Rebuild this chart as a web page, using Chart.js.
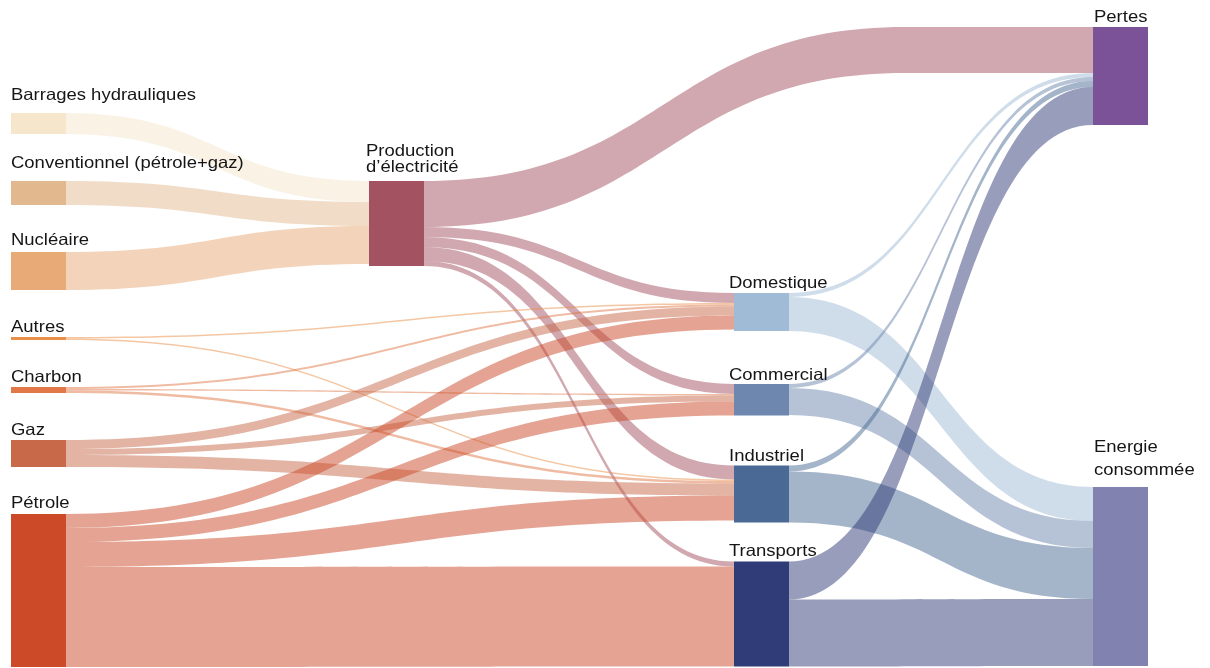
<!DOCTYPE html>
<html lang="fr">
<head>
<meta charset="utf-8">
<title>Flux d'énergie</title>
<script src="https://cdn.jsdelivr.net/npm/chart.js@4.4.1/dist/chart.umd.min.js"></script>
<style>
    html, body { margin: 0; padding: 0; background: #ffffff; }
    #wrap { width: 1210px; height: 668px; position: relative; }
</style>
</head>
<body>
<div id="wrap"><canvas id="sankeyChart"></canvas></div>
<script>
// Noeuds du diagramme
const nodeLabels = [
    'Barrages hydrauliques',
    'Conventionnel (pétrole+gaz)',
    'Nucléaire',
    'Autres',
    'Charbon',
    'Gaz',
    'Pétrole',
    'Production\nd’électricité',
    'Domestique',
    'Commercial',
    'Industriel',
    'Transports',
    'Pertes',
    'Energie\nconsommée'
];

// Flux : source, cible, valeur
const linkFrom  = [0, 1, 2,  7, 7, 7, 7, 7,  3, 3,  4, 4, 4,  5, 5, 5,  6, 6, 6, 6,    8, 8,  9, 9,  10, 10,  11, 11];
const linkTo    = [7, 7, 7,  12, 8, 9, 10, 11,  8, 10,  8, 9, 10,  8, 9, 10,  8, 9, 10, 11,  12, 13,  12, 13,  12, 13,  12, 13];
const linkValue = [21, 24, 38,  46, 10, 10, 14, 5,  1.5, 1.5,  2, 1.5, 2.5,  9, 6, 12,  14, 14, 25, 100,  4, 34,  4, 27,  6, 51,  38, 67];

// Mise en page (colonnes, positions, couleurs)
const nodeColumn = [0, 0, 0, 0, 0, 0, 0, 1, 2, 2, 2, 2, 3, 3];
const columnX = [11, 369, 734, 1093];
const columnTop = [113, 181, 293, 27];
const columnGaps = [[47, 47, 47, 47, 47, 47], [], [53, 50, 39], [362]];
const nodeWidth = 55;
const nodeColors = ['#f6e6cc', '#e2b98f', '#e8aa76', '#ea8f4a', '#e07848', '#c8694a', '#cc4a28',
    '#a35262', '#a0bbd6', '#6d87ae', '#4a6994', '#2f3c78', '#7b5298', '#8282b0'];
const labelLift = [13, 13, 7, 5, 5, 5, 6, 9, 5, 4, 5, 6, 5, 12];
const labelLineHeight = [17, 17, 17, 17, 17, 17, 17, 16.5, 17, 17, 17, 17, 17, 23];
const labelDx = [0, -3, -5, 1];
const linkAlpha = 0.5;

function hexToRgba(hex, a) {
    const n = parseInt(hex.slice(1), 16);
    return 'rgba(' + (n >> 16) + ',' + ((n >> 8) & 255) + ',' + (n & 255) + ',' + a + ')';
}

// Calcul des positions des noeuds et des liens (en unités de valeur)
function buildLayout() {
    const inSum = nodeLabels.map(() => 0);
    const outSum = nodeLabels.map(() => 0);
    linkFrom.forEach((s, i) => {
        outSum[s] += linkValue[i];
        inSum[linkTo[i]] += linkValue[i];
    });
    const size = nodeLabels.map((_, i) => Math.max(inSum[i], outSum[i]));
    const top = [];
    columnX.forEach((_, c) => {
        let y = columnTop[c];
        let k = 0;
        nodeLabels.forEach((_, i) => {
            if (nodeColumn[i] !== c) return;
            if (k > 0) y += columnGaps[c][k - 1];
            top[i] = y;
            y += size[i];
            k++;
        });
    });
    const center = i => top[i] + size[i] / 2;

    const links = linkFrom.map((s, i) => ({ s: s, t: linkTo[i], v: linkValue[i] }));
    nodeLabels.forEach((_, n) => {
        let y = top[n];
        links.filter(l => l.s === n).sort((a, b) => center(a.t) - center(b.t)).forEach(l => {
            l.sy = y; y += l.v;
        });
        y = top[n];
        links.filter(l => l.t === n).sort((a, b) => center(a.s) - center(b.s)).forEach(l => {
            l.ty = y; y += l.v;
        });
    });
    return { size: size, top: top, links: links };
}

const layout = buildLayout();

const sankeyPlugin = {
    id: 'sankeyDraw',
    afterDatasetsDraw(chart) {
        const ctx = chart.ctx;
        const xs = chart.scales.x;
        const ys = chart.scales.y;

        // liens
        layout.links.forEach(l => {
            const cs = nodeColumn[l.s], ct = nodeColumn[l.t];
            const x0 = xs.getPixelForValue(columnX[cs] + nodeWidth);
            const x1 = xs.getPixelForValue(columnX[ct]);
            // le lien production -> pertes termine sa courbe plus tôt
            const xEnd = (cs > 0 && ct - cs > 1) ? x0 + (x1 - x0) * 0.72 : x1;
            const xm = (x0 + xEnd) / 2;
            const y0t = ys.getPixelForValue(l.sy);
            const y0b = ys.getPixelForValue(l.sy + l.v);
            const y1t = ys.getPixelForValue(l.ty);
            const y1b = ys.getPixelForValue(l.ty + l.v);
            ctx.beginPath();
            ctx.moveTo(x0, y0t);
            ctx.bezierCurveTo(xm, y0t, xm, y1t, xEnd, y1t);
            ctx.lineTo(x1, y1t);
            ctx.lineTo(x1, y1b);
            ctx.lineTo(xEnd, y1b);
            ctx.bezierCurveTo(xm, y1b, xm, y0b, x0, y0b);
            ctx.closePath();
            ctx.fillStyle = hexToRgba(nodeColors[l.s], linkAlpha);
            ctx.fill();
        });

        // noeuds
        nodeLabels.forEach((_, i) => {
            const c = nodeColumn[i];
            const x0 = xs.getPixelForValue(columnX[c]);
            const x1 = xs.getPixelForValue(columnX[c] + nodeWidth);
            const y0 = ys.getPixelForValue(layout.top[i]);
            const y1 = ys.getPixelForValue(layout.top[i] + layout.size[i]);
            ctx.fillStyle = nodeColors[i];
            ctx.fillRect(x0, y0, x1 - x0, y1 - y0);
        });

        // étiquettes
        ctx.fillStyle = '#151515';
        ctx.font = '16.5px "Liberation Sans", Arial, Helvetica, sans-serif';
        ctx.textBaseline = 'alphabetic';
        ctx.textAlign = 'left';
        nodeLabels.forEach((label, i) => {
            const c = nodeColumn[i];
            const lines = label.split('\n');
            const x = xs.getPixelForValue(columnX[c]) + labelDx[c];
            const yLast = ys.getPixelForValue(layout.top[i]) - labelLift[i];
            lines.forEach((line, k) => {
                const y = yLast - (lines.length - 1 - k) * labelLineHeight[i];
                ctx.save();
                ctx.translate(x, y);
                ctx.scale(1.12, 1);
                ctx.fillText(line, 0, 0);
                ctx.restore();
            });
        });
    }
};

function initSankey() {
    const canvas = document.getElementById('sankeyChart');
    new Chart(canvas.getContext('2d'), {
        type: 'scatter',
        data: { datasets: [{ data: [] }] },
        options: {
            responsive: true,
            maintainAspectRatio: false,
            animation: false,
            layout: { padding: 0 },
            plugins: {
                legend: { display: false },
                tooltip: { enabled: false }
            },
            scales: {
                x: { type: 'linear', min: 0, max: 1210, display: false },
                y: { type: 'linear', min: 0, max: 668, reverse: true, display: false }
            }
        },
        plugins: [sankeyPlugin]
    });
}

document.addEventListener('DOMContentLoaded', initSankey);
</script>
</body>
</html>
